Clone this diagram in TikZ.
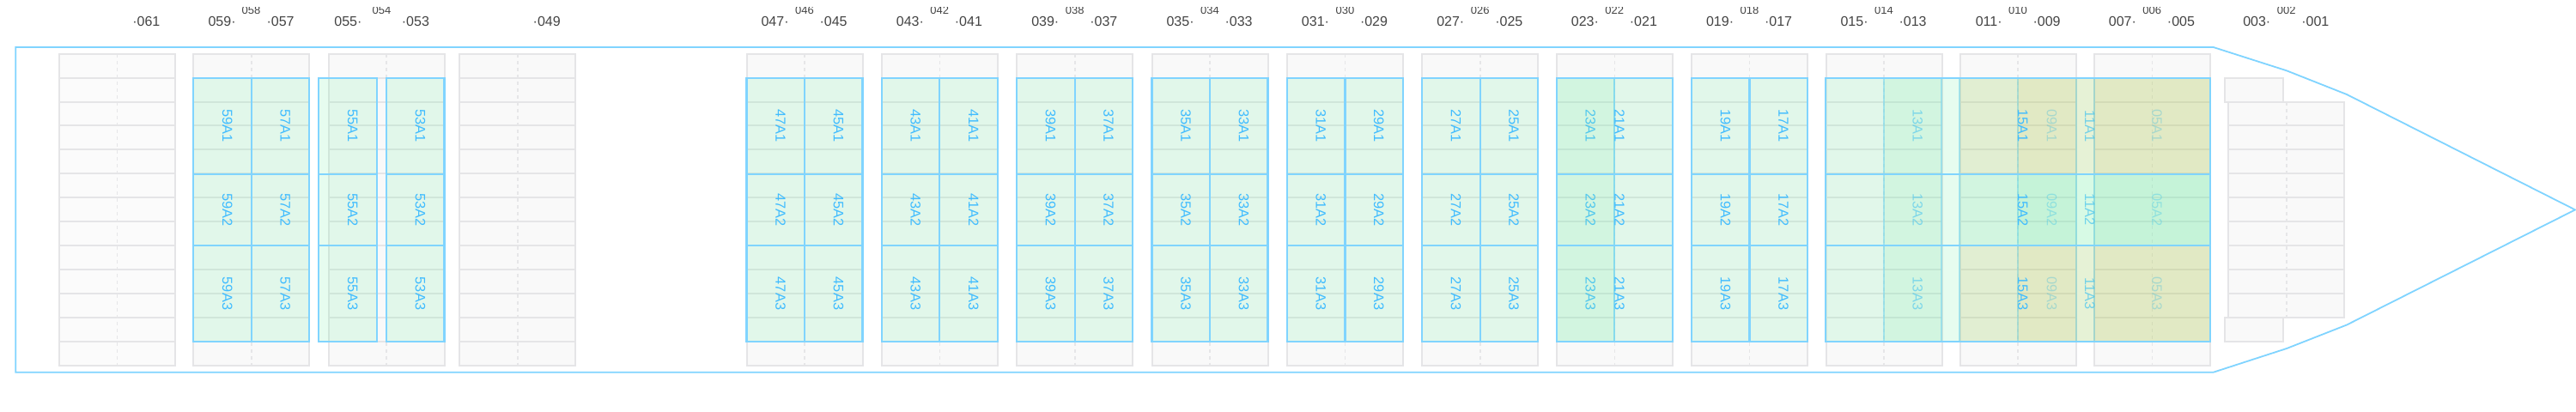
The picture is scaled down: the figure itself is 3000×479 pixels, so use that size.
\documentclass[tikz,border=0pt]{standalone}
\usepackage{fontspec}
\setmainfont{Liberation Sans}
\definecolor{hullblue}{HTML}{80D4FF}
\definecolor{baytext}{HTML}{40BCFF}
\definecolor{baygreen}{HTML}{59EC95}
\definecolor{bayorange}{HTML}{FFAA18}
\definecolor{gridgrey}{HTML}{E5E5E7}
\definecolor{cellgrey}{HTML}{F9F9F9}
\definecolor{celllight}{HTML}{FBFBFB}
\definecolor{dashgrey}{HTML}{E6E6E8}
\definecolor{nolabel}{HTML}{444444}
\tikzset{
  x=0.5pt,y=-0.5pt,
  hull/.style={draw=hullblue,line width=0.9pt,line join=miter},
  cellbox/.style={draw=gridgrey,line width=1pt,fill=cellgrey},
  lightbox/.style={draw=gridgrey,line width=1pt,fill=celllight},
  axisline/.style={draw=dashgrey,line width=0.8pt,dash pattern=on 2pt off 2pt},
  bayrect/.style={draw=hullblue,line width=1.15pt,draw opacity=1},
  greenbay/.style={bayrect,fill=baygreen,fill opacity=.15},
  undergreen/.style={bayrect,fill=baygreen,fill opacity=.10,draw opacity=.6},
  orangebay/.style={bayrect,fill=bayorange,fill opacity=.12,draw opacity=.6},
  underorange/.style={bayrect,fill=bayorange,fill opacity=.08,draw opacity=.6},
  baylabel/.style={rotate=-90,anchor=base,inner sep=0pt,text=baytext,font=\fontsize{8.2}{8}\selectfont},
  numleft/.style={anchor=base east,inner sep=0pt,text=nolabel,font=\fontsize{8}{8}\selectfont},
  numright/.style={anchor=base west,inner sep=0pt,text=nolabel,font=\fontsize{8}{8}\selectfont},
  numtop/.style={anchor=base,inner sep=0pt,text=nolabel,font=\fontsize{6.5}{6.5}\selectfont},
}
% one block of storage rows: centre, style, first row, last row
\newcommand\rowblock[4]{%
  \foreach \i in {#3,...,#4}{%
    \draw[#2] ({#1-67.5},{62.7+27.92*\i}) rectangle ({#1+67.5},{62.7+27.92*(\i+1)});
  }%
  \draw[axisline] (#1,{62.7+27.92*#3}) -- (#1,{62.7+27.92*(#4+1)});
}
% one bay cell: id, row, x1, x2, style, label opacity
\newcommand\baycell[6]{%
  \ifnum#2=1 \def\ya{90.7}\def\yb{202.7}\def\cy{146.8}\fi
  \ifnum#2=2 \def\ya{202.7}\def\yb{286}\def\cy{244.4}\fi
  \ifnum#2=3 \def\ya{286}\def\yb{397.7}\def\cy{342}\fi
  \draw[#5] (#3,\ya) rectangle (#4,\yb);
  \node[baylabel,text opacity=#6] (b#1A#2) at ({(#3+#4)/2},\cy) {#1A#2};
}
\newcommand\bay[5]{%
  \baycell{#1}{1}{#2}{#3}{#4}{#5}%
  \baycell{#1}{2}{#2}{#3}{#4}{#5}%
  \baycell{#1}{3}{#2}{#3}{#4}{#5}%
}
% a bay whose outer rows are orange and whose middle row is green
\newcommand\mixbay[6]{%
  \baycell{#1}{1}{#2}{#3}{#4}{#6}%
  \baycell{#1}{2}{#2}{#3}{#5}{#6}%
  \baycell{#1}{3}{#2}{#3}{#4}{#6}%
}
\begin{document}
\begin{tikzpicture}
\useasboundingbox (0,0) rectangle (3000,479);
\fill[white] (0,0) rectangle (3000,479);
% hull
\draw[hull] (18.3,55) -- (2577.7,55) -- (2663,82.3) -- (2733,110) -- (2999,244.4)
  -- (2733,378.5) -- (2663,406) -- (2577.7,433.7) -- (18.3,433.7) -- cycle;
% storage blocks
\rowblock{136.3}{lightbox}{0}{12}
\foreach \c in {292.8,450,602.8,937,1094.3,1251.7,1409,1566.4,1723.7,1880.3,2037.5,2194,2350,2506.3}{
  \rowblock{\c}{cellbox}{0}{12}
}
\rowblock{2662.8}{cellbox}{2}{10}
\draw[cellbox] (2591,90.7) rectangle (2658.7,118.6);
\draw[cellbox] (2591,370) rectangle (2658.7,397.7);
% bays
\bay{59}{225.3}{292.8}{greenbay}{1}
\bay{57}{292.8}{360.3}{greenbay}{1}
\bay{55}{371}{439}{greenbay}{1}
\bay{53}{450}{517.5}{greenbay}{1}
\foreach \c/\l/\r in {937/47/45,1094.3/43/41,1251.7/39/37,1409/35/33,1566.4/31/29,1723.7/27/25,2037.5/19/17}{
  \bay{\l}{\c-67.5}{\c}{greenbay}{1}
  \bay{\r}{\c}{\c+67.5}{greenbay}{1}
}
\bay{23}{1812.8}{1880.3}{undergreen,draw opacity=.85}{.9}
\bay{21}{1812.8}{1947.8}{greenbay}{1}
\bay{13}{2194}{2261.3}{undergreen}{.6}
\mixbay{09}{2350}{2417.7}{underorange}{undergreen}{.42}
\mixbay{05}{2439}{2573.8}{underorange}{undergreen}{.42}
\mixbay{11}{2282.3}{2573.8}{orangebay}{undergreen}{.7}
\bay{15}{2126.3}{2573.8}{greenbay}{1}
% numbers along the top
\node[numright] (n061) at (153.9,30) {·061};
\node[numright] (n049) at (620.3,30) {·049};
\foreach \c/\l/\r in {293/059/057,937/047/045,1094.3/043/041,1251.7/039/037,1409/035/033,1566.4/031/029,1723.7/027/025,1880.3/023/021,2037.5/019/017,2194/015/013,2350/011/009,2506.3/007/005,2662.7/003/001}{
  \node[numleft] (n\l) at ({\c-18},30) {\l·};
  \node[numright] (n\r) at ({\c+17.2},30) {·\r};
}
\node[numleft] (n055) at (421.8,30) {055·};
\node[numright] (n053) at (467.5,30) {·053};
\begin{scope}
\clip (0,8.9) rectangle (3000,40);
\foreach \c/\m in {292.5/058,444.5/054,937/046,1094.3/042,1251.7/038,1409/034,1566.4/030,1723.7/026,1880.3/022,2037.5/018,2194/014,2350/010,2506.3/006,2662.7/002}{
  \node[numtop] (n\m) at (\c,16.2) {\m};
}
\end{scope}
\end{tikzpicture}
\end{document}
